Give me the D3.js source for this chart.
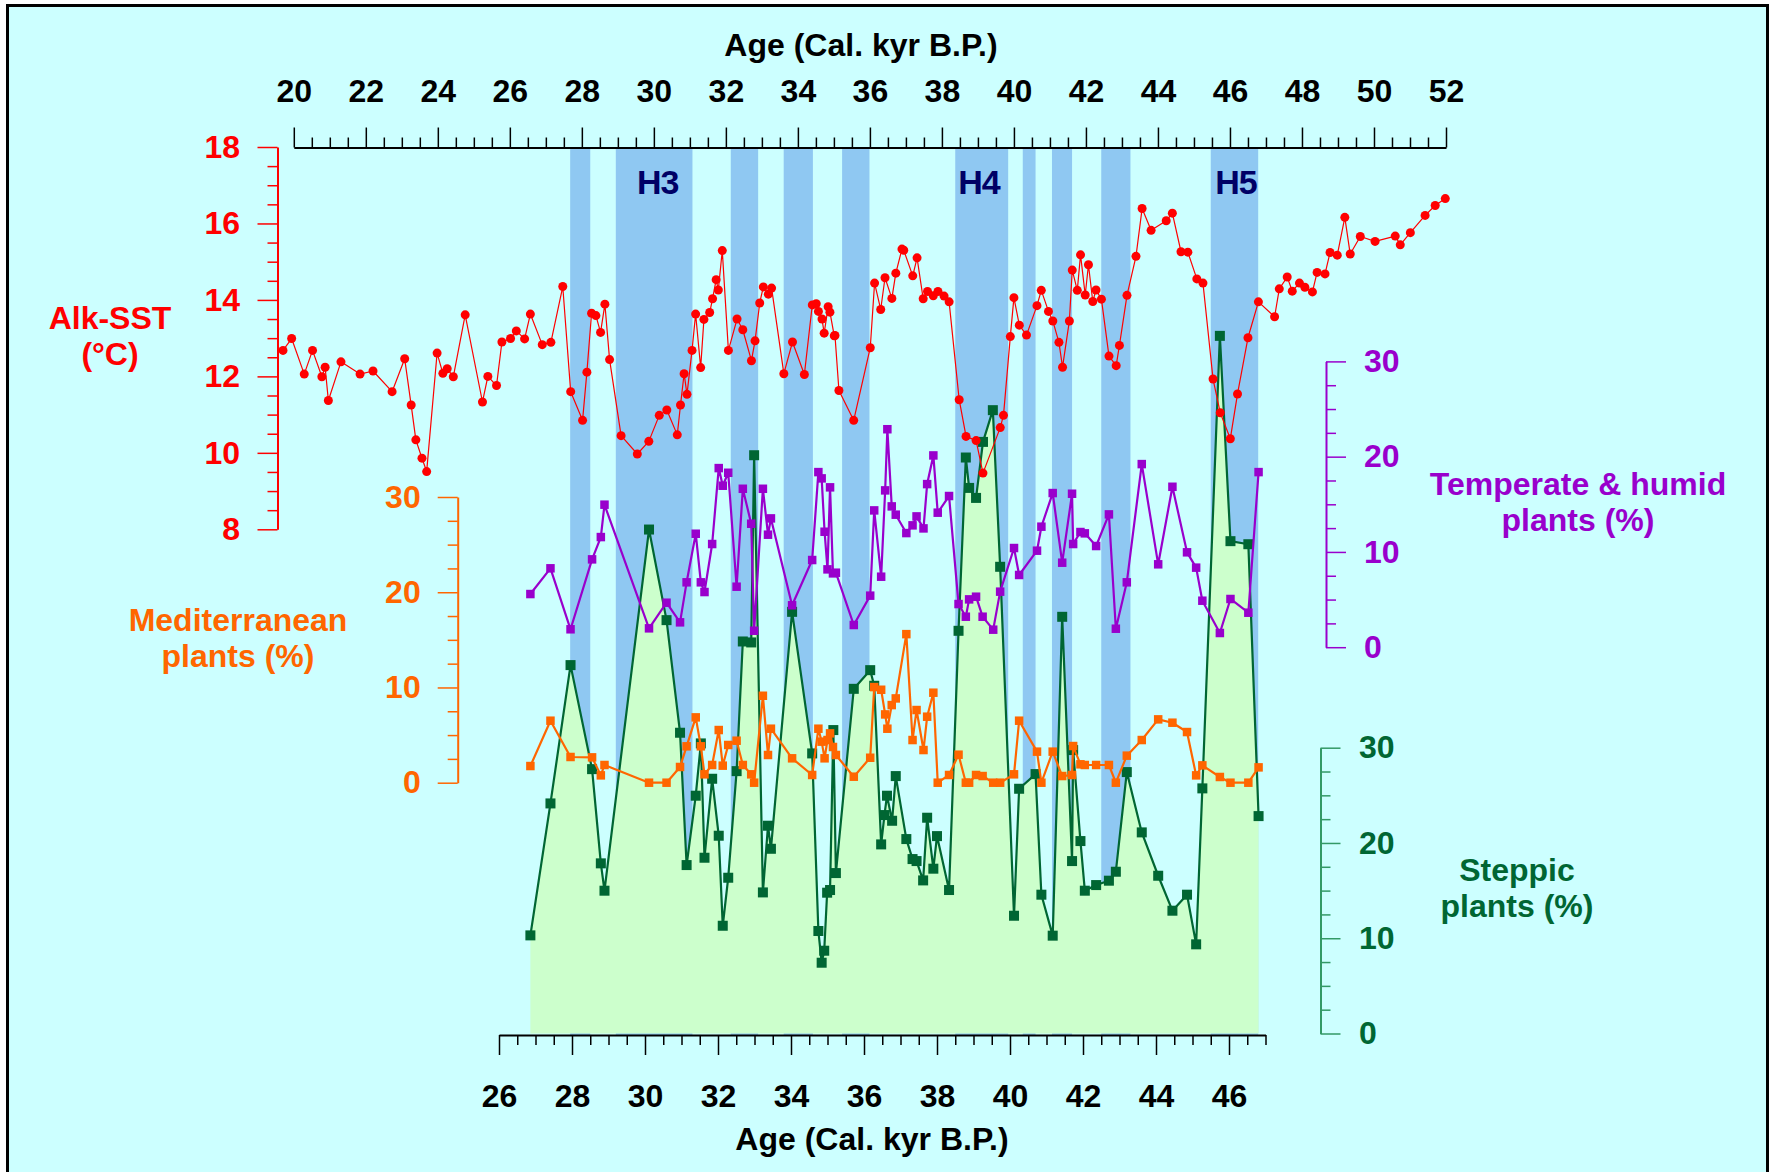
<!DOCTYPE html>
<html><head><meta charset="utf-8">
<script src="https://cdn.jsdelivr.net/npm/d3@7"></script>
<style>
body{margin:0;background:#fff}
svg{display:block}
text{font-family:"Liberation Sans",Arial,Helvetica,sans-serif;font-weight:bold}
</style>
</head><body>
<svg id="c" width="1771" height="1172"></svg>
<script>
// ---------- data ----------
const sstAge=[19.7,19.94,20.29,20.52,20.78,20.87,20.96,21.31,21.84,22.2,22.73,23.08,23.26,23.39,23.56,23.69,23.98,24.14,24.26,24.43,24.76,25.24,25.39,25.63,25.78,26.02,26.18,26.41,26.57,26.9,27.14,27.47,27.69,28.02,28.14,28.27,28.39,28.52,28.64,28.77,29.09,29.54,29.86,30.15,30.36,30.65,30.74,30.84,30.92,31.06,31.16,31.3,31.39,31.55,31.63,31.73,31.79,31.9,32.07,32.31,32.47,32.71,32.81,32.94,33.04,33.18,33.27,33.61,33.85,34.18,34.4,34.51,34.57,34.67,34.73,34.84,34.89,35.01,35.03,35.14,35.55,36.01,36.13,36.3,36.42,36.61,36.72,36.89,36.94,37.19,37.31,37.48,37.6,37.76,37.89,38.06,38.2,38.48,38.67,38.95,39.14,39.62,39.71,39.9,40.0,40.15,40.35,40.64,40.76,40.96,41.08,41.25,41.35,41.54,41.62,41.76,41.85,41.98,42.07,42.19,42.28,42.43,42.64,42.84,42.93,43.14,43.39,43.56,43.81,44.23,44.4,44.64,44.83,45.08,45.25,45.53,45.73,46.01,46.21,46.5,46.79,47.24,47.37,47.59,47.73,47.93,48.08,48.29,48.42,48.64,48.78,48.98,49.19,49.34,49.62,50.03,50.59,50.73,51.01,51.42,51.7,51.98];
const sstVal=[12.68,12.99,12.06,12.68,11.99,12.24,11.37,12.38,12.06,12.14,11.6,12.46,11.25,10.34,9.86,9.51,12.61,12.08,12.2,11.99,13.61,11.33,12.0,11.76,12.9,12.99,13.19,12.98,13.63,12.83,12.89,14.35,11.6,10.85,12.11,13.65,13.59,13.15,13.89,12.44,10.45,9.97,10.3,10.98,11.12,10.47,11.25,12.07,11.53,12.68,13.63,12.23,13.49,13.67,14.03,14.53,14.26,15.29,12.68,13.5,13.22,12.41,12.93,13.92,14.34,14.15,14.31,12.07,12.9,12.05,13.87,13.9,13.7,13.5,13.13,13.82,13.68,13.06,13.07,11.63,10.85,12.75,14.44,13.75,14.58,14.04,14.7,15.33,15.3,14.63,15.1,14.03,14.22,14.11,14.22,14.1,13.95,11.39,10.43,10.32,9.47,10.66,10.98,13.04,14.06,13.34,13.08,13.85,14.25,13.7,13.45,12.89,12.24,13.45,14.78,14.25,15.18,14.13,14.92,13.96,14.26,14.02,12.53,12.28,12.81,14.12,15.14,16.39,15.82,16.07,16.27,15.26,15.25,14.55,14.44,11.93,11.05,10.37,11.54,13.01,13.95,13.56,14.29,14.6,14.23,14.44,14.33,14.21,14.72,14.68,15.24,15.17,16.16,15.2,15.66,15.53,15.67,15.44,15.76,16.21,16.47,16.65];

const pollenAge=[26.86,27.41,27.96,28.55,28.79,28.89,30.11,30.59,30.96,31.14,31.39,31.53,31.63,31.84,32.02,32.13,32.28,32.51,32.68,32.91,32.99,33.23,33.37,33.45,34.03,34.58,34.75,34.84,34.92,35.0,35.07,35.15,35.23,35.72,36.17,36.28,36.47,36.58,36.64,36.76,36.87,37.16,37.33,37.44,37.63,37.73,37.9,38.02,38.33,38.59,38.79,38.88,39.07,39.25,39.54,39.73,40.11,40.25,40.74,40.86,41.17,41.43,41.7,41.73,41.93,42.05,42.36,42.71,42.9,43.2,43.61,44.06,44.45,44.85,45.1,45.27,45.75,46.04,46.53,46.81];
const tempVal=[5.58,8.28,1.88,9.22,11.56,14.96,1.98,4.67,2.61,6.81,11.91,6.81,5.79,10.83,18.8,16.95,18.31,6.35,16.63,12.96,1.73,16.63,11.81,13.52,4.4,9.15,18.38,17.72,12.12,8.17,16.78,7.75,7.82,2.33,5.41,14.36,7.4,16.46,22.88,14.78,13.91,11.98,12.79,13.73,12.47,17.12,20.13,14.12,15.87,4.53,3.2,5.02,5.3,3.2,1.84,5.83,10.41,7.58,10.13,12.65,16.18,8.87,16.11,10.83,12.09,11.95,10.62,13.94,1.94,6.81,19.22,8.7,16.84,9.96,8.35,4.88,1.49,5.06,3.62,18.38];
const medVal=[1.75,6.51,2.7,2.66,0.77,1.86,0,0,1.65,3.82,6.86,3.82,0.88,1.86,5.53,1.79,3.96,4.41,1.86,0.88,0,9.13,2.91,5.67,2.56,0.81,5.67,4.31,2.56,4.48,5.18,3.75,2.91,0.63,2.62,10.04,9.76,7.17,5.67,8.15,8.85,15.6,4.48,7.63,3.43,6.93,9.45,0,0.81,2.94,0,0,0.81,0.7,0,0,0.88,6.51,3.26,0,3.26,0.7,0.81,3.85,1.93,1.86,1.86,1.86,0,2.84,4.48,6.65,6.3,5.32,0.77,1.82,0.6,0,0,1.61];

const stepAge=[26.86,27.41,27.96,28.55,28.79,28.89,30.11,30.59,30.96,31.14,31.39,31.53,31.63,31.84,32.02,32.13,32.28,32.51,32.68,32.91,32.99,33.23,33.37,33.45,34.03,34.58,34.75,34.84,34.91,34.99,35.07,35.16,35.23,35.72,36.17,36.28,36.47,36.56,36.63,36.77,36.87,37.16,37.33,37.44,37.62,37.73,37.9,38.0,38.33,38.59,38.79,38.88,39.07,39.26,39.53,39.73,40.11,40.25,40.7,40.86,41.17,41.43,41.7,41.73,41.93,42.05,42.36,42.71,42.9,43.2,43.61,44.06,44.45,44.85,45.1,45.27,45.75,46.04,46.53,46.81];
const stepVal=[10.3,24.15,38.67,27.75,17.86,14.99,52.9,43.39,31.57,17.68,24.96,30.45,18.45,26.74,20.76,11.31,16.35,27.54,41.15,41.05,60.7,14.81,21.81,19.39,44.26,29.4,10.76,7.43,8.69,14.78,15.06,31.85,16.84,36.18,38.14,36.5,19.85,22.93,24.96,22.33,27.02,20.41,18.31,18.1,16.07,22.65,17.3,20.72,15.06,42.27,60.46,57.27,56.22,62.1,65.43,48.99,12.36,25.69,27.23,14.57,10.27,43.74,18.1,29.75,20.2,14.99,15.58,16.04,16.98,27.44,21.11,16.56,12.89,14.57,9.36,25.73,73.23,51.68,51.36,22.82];

// Heinrich / stadial bands (age limits, lower axis)
const bandStart=[27.95,29.2,32.35,33.8,35.4,38.5,40.35,41.15,42.5,45.5];
const bandEnd=[28.5,31.3,33.1,34.6,36.15,39.95,40.7,41.7,43.3,46.8];
const eventNames=["H3","H4","H5"];
const eventAge=[30.35,39.15,46.19];

const topTicks=d3.range(20,52.1,2);
const botTicks=d3.range(26,46.1,2);
const sstTicks=[8,10,12,14,16,18];
const pctTicks=[0,10,20,30];

// ---------- drawing ----------
const svg=d3.select('#c');
const FONT='"Liberation Sans",Arial,Helvetica,sans-serif';

svg.append('rect').attr('x',7.5).attr('y',5.5).attr('width',1760).attr('height',1180)
  .attr('fill','#ccffff').attr('stroke','#000').attr('stroke-width',3);

const xTop=d3.scaleLinear([20,52],[293.8,1446]);
const xBot=d3.scaleLinear([26,47],[499,1265.5]);
const ySST=d3.scaleLinear([8,18],[529.3,147]);
const yMed=d3.scaleLinear([0,30],[782.7,497]);
const yTemp=d3.scaleLinear([0,30],[647.2,361.4]);
const ySte=d3.scaleLinear([0,30],[1033.5,747.7]);

// bands
svg.append('g').selectAll('rect').data(bandStart).join('rect')
  .attr('x',(d)=>xBot(d)).attr('width',(d,i)=>xBot(bandEnd[i])-xBot(d))
  .attr('y',149).attr('height',1035-149).attr('fill','#8fc8f2');

svg.append('g').selectAll('text').data(eventNames).join('text')
  .attr('x',(d,i)=>xBot(eventAge[i])).attr('y',182).attr('dy','0.35em')
  .attr('text-anchor','middle').attr('font-size',34).attr('fill','#000066')
  .attr('letter-spacing',-1).text(d=>d);

// steppic area
const stepData=stepAge.map((a,i)=>({a,v:stepVal[i]}));
svg.append('path').datum(stepData)
  .attr('d',d3.area().x(d=>xBot(d.a)).y0(ySte(0)).y1(d=>ySte(d.v)))
  .attr('fill','#ccffcc');

// axes helper
function axisPair(gen,scale,transform,major,minor,color,lblColor,size,pad,lw){
  const gMin=svg.append('g').attr('transform',transform)
    .call(gen(scale).tickValues(minor).tickSize(10).tickSizeOuter(0).tickFormat(''));
  gMin.select('.domain').remove();
  gMin.selectAll('.tick line').attr('stroke',color).attr('stroke-width',lw);
  const g=svg.append('g').attr('transform',transform)
    .call(gen(scale).tickValues(major).tickSize(20).tickSizeOuter(0).tickPadding(pad));
  g.select('.domain').attr('stroke',color).attr('stroke-width',lw+0.5);
  g.selectAll('.tick line').attr('stroke',color).attr('stroke-width',lw);
  g.attr('font-size',size).attr('font-family',FONT).attr('font-weight','bold');
  g.selectAll('.tick text').attr('fill',lblColor);
  return g;
}
const minorOf=(a,b,s,majors)=>d3.range(a,b+1e-9,s).filter(v=>!majors.some(m=>Math.abs(m-v)<1e-6));

const gTop=axisPair(d3.axisTop,xTop,'translate(0,147.5)',topTicks,minorOf(20,52,0.5,topTicks),'#000','#000',32,26,1.5);
const gBot=axisPair(d3.axisBottom,xBot,'translate(0,1035)',botTicks,minorOf(26,47,0.5,botTicks),'#000','#000',32,29,1.5);
gBot.selectAll('.tick text').attr('dy','0.71em');
const gS=axisPair(d3.axisLeft,ySST,'translate(277.5,0)',sstTicks,minorOf(8,18,0.5,sstTicks),'#ff0000','#ff0000',32,17.5,1.5);
const gM=axisPair(d3.axisLeft,yMed,'translate(457.7,0)',pctTicks,minorOf(0,30,2.5,pctTicks),'#ff6600','#ff6600',32,17,1.5);
const gT=axisPair(d3.axisRight,yTemp,'translate(1326,0)',pctTicks,minorOf(0,30,2.5,pctTicks),'#9900cc','#9900cc',32,18,1.5);
const gG=axisPair(d3.axisRight,ySte,'translate(1320.5,0)',pctTicks,minorOf(0,30,2.5,pctTicks),'#339966','#006633',32,18.5,1.5);

// axis titles
function label(lines,x,y,color,lh){
  const t=svg.append('text').attr('text-anchor','middle').attr('font-size',32).attr('fill',color);
  lines.forEach((s,i)=>t.append('tspan').attr('x',x).attr('y',y+i*lh).attr('dy','0.35em').text(s));
}
label(['Age (Cal. kyr B.P.)'],861,45,'#000',0);
label(['Age (Cal. kyr B.P.)'],872,1138.5,'#000',0);
label(['Alk-SST','(°C)'],110,317.5,'#ff0000',36);
label(['Mediterranean','plants (%)'],238,620,'#ff6600',36);
label(['Temperate & humid','plants (%)'],1578,483.5,'#9900cc',36);
label(['Steppic','plants (%)'],1517,870,'#006633',36);

// series
function series(ages,vals,x,y,color,lw,marker,size){
  const data=ages.map((a,i)=>({a,v:vals[i]}));
  const g=svg.append('g');
  g.append('path').datum(data).attr('d',d3.line().x(d=>x(d.a)).y(d=>y(d.v)))
    .attr('fill','none').attr('stroke',color).attr('stroke-width',lw).attr('stroke-linejoin','round');
  if(marker==='circle'){
    g.selectAll('circle').data(data).join('circle').attr('cx',d=>x(d.a)).attr('cy',d=>y(d.v)).attr('r',size/2).attr('fill',color);
  } else {
    g.selectAll('rect').data(data).join('rect').attr('x',d=>x(d.a)-size/2).attr('y',d=>y(d.v)-size/2)
      .attr('width',size).attr('height',size).attr('fill',color);
  }
}
series(stepAge,stepVal,xBot,ySte,'#006633',2.2,'square',10);
series(pollenAge,tempVal,xBot,yTemp,'#9900cc',2.2,'square',8.5);
series(pollenAge,medVal,xBot,yMed,'#ff6600',2.2,'square',8.5);
series(sstAge,sstVal,xTop,ySST,'#ff0000',1.2,'circle',9);
</script>
</body></html>
